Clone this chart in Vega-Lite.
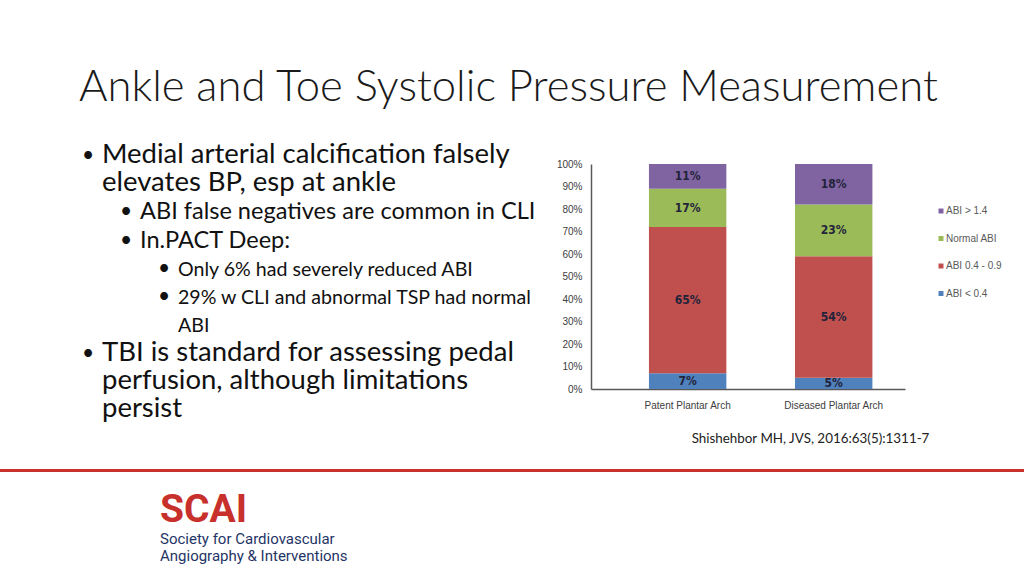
{
  "$schema": "https://vega.github.io/schema/vega-lite/v6.json",
  "background": "white",
  "padding": {"left": 0, "top": 66, "right": 0, "bottom": 0},
  "title": {
    "text": "Ankle and Toe Systolic Pressure Measurement",
    "anchor": "start",
    "dx": 79,
    "offset": 30,
    "font": "Lato",
    "fontWeight": 300,
    "fontSize": 43.6,
    "color": "#1a1a1a"
  },
  "config": {"view": {"stroke": null}},
  "spacing": 24,
  "vconcat": [
    {
      "bounds": "flush",
      "spacing": 57,
      "hconcat": [
        {
          "width": 534,
          "height": 256,
          "data": {
            "values": [
              {"line": 1, "level": 1, "bullet": true, "text": "Medial arterial calcification falsely"},
              {"line": 2, "level": 1, "bullet": false, "text": "elevates BP, esp at ankle"},
              {"line": 3, "level": 2, "bullet": true, "text": "ABI false negatives are common in CLI"},
              {"line": 4, "level": 2, "bullet": true, "text": "In.PACT Deep:"},
              {"line": 5, "level": 3, "bullet": true, "text": "Only 6% had severely reduced ABI"},
              {"line": 6, "level": 3, "bullet": true, "text": "29% w CLI and abnormal TSP had normal"},
              {"line": 7, "level": 3, "bullet": false, "text": "ABI"},
              {"line": 8, "level": 1, "bullet": true, "text": "TBI is standard for assessing pedal"},
              {"line": 9, "level": 1, "bullet": false, "text": "perfusion, although limitations"},
              {"line": 10, "level": 1, "bullet": false, "text": "persist"}
            ]
          },
          "encoding": {
            "x": {"field": "level", "type": "quantitative", "scale": {"domain": [-1.684, 12.37], "zero": false, "nice": false}, "axis": null},
            "y": {"field": "line", "type": "quantitative", "scale": {"domain": [1.035, 10.107], "zero": false, "nice": false, "reverse": true}, "axis": null}
          },
          "layer": [
            {
              "mark": {"type": "text", "align": "left", "baseline": "alphabetic", "font": "Lato", "color": "#111111"},
              "encoding": {
                "text": {"field": "text"},
                "size": {"field": "level", "type": "quantitative", "scale": {"domain": [1, 3], "range": [27.5, 19.6]}, "legend": null}
              }
            },
            {
              "transform": [{"filter": "datum.bullet"}],
              "mark": {"type": "text", "text": "•", "align": "center", "baseline": "alphabetic", "dx": -14, "dy": -1, "font": "Lato", "fontSize": 21, "color": "#111111"}
            }
          ]
        },
        {
          "width": 314,
          "height": 225,
          "data": {
            "values": [
              {"arch": "Patent Plantar Arch", "category": "ABI < 0.4", "tier": 1, "pct": 7},
              {"arch": "Patent Plantar Arch", "category": "ABI 0.4 - 0.9", "tier": 2, "pct": 65},
              {"arch": "Patent Plantar Arch", "category": "Normal ABI", "tier": 3, "pct": 17},
              {"arch": "Patent Plantar Arch", "category": "ABI > 1.4", "tier": 4, "pct": 11},
              {"arch": "Diseased Plantar Arch", "category": "ABI < 0.4", "tier": 1, "pct": 5},
              {"arch": "Diseased Plantar Arch", "category": "ABI 0.4 - 0.9", "tier": 2, "pct": 54},
              {"arch": "Diseased Plantar Arch", "category": "Normal ABI", "tier": 3, "pct": 23},
              {"arch": "Diseased Plantar Arch", "category": "ABI > 1.4", "tier": 4, "pct": 18}
            ]
          },
          "transform": [
            {"stack": "pct", "groupby": ["arch"], "sort": [{"field": "tier", "order": "ascending"}], "as": ["pct0", "pct1"]},
            {"calculate": "(datum.pct0 + datum.pct1) / 2", "as": "mid"},
            {"calculate": "datum.pct + '%'", "as": "label"}
          ],
          "encoding": {
            "x": {
              "field": "arch",
              "type": "nominal",
              "sort": ["Patent Plantar Arch", "Diseased Plantar Arch"],
              "scale": {"paddingInner": 0.47, "paddingOuter": 0.31, "align": 0.64},
              "axis": {
                "labelAngle": 0,
                "ticks": false,
                "domainColor": "#595959",
                "domainWidth": 1.5,
                "labelFont": "Liberation Sans",
                "labelFontSize": 10,
                "labelColor": "#404040",
                "labelPadding": 11,
                "title": "Shishehbor MH, JVS, 2016:63(5):1311-7",
                "titleFont": "Lato",
                "titleFontSize": 13.4,
                "titleFontWeight": "normal",
                "titleColor": "#222222",
                "titleX": 219,
                "titleY": 49,
                "titleBaseline": "middle",
                "titleAlign": "center"
              }
            }
          },
          "layer": [
            {
              "mark": {"type": "bar"},
              "encoding": {
                "y": {
                  "field": "pct0",
                  "type": "quantitative",
                  "scale": {"domain": [0, 100], "nice": false},
                  "axis": {
                    "values": [0, 10, 20, 30, 40, 50, 60, 70, 80, 90, 100],
                    "labelExpr": "datum.value + '%'",
                    "labelOverlap": false,
                    "grid": false,
                    "ticks": false,
                    "domainColor": "#595959",
                    "domainWidth": 1.5,
                    "labelFont": "Liberation Sans",
                    "labelFontSize": 10,
                    "labelColor": "#404040",
                    "labelPadding": 9,
                    "title": null
                  }
                },
                "y2": {"field": "pct1"},
                "color": {
                  "field": "category",
                  "type": "nominal",
                  "scale": {
                    "domain": ["ABI > 1.4", "Normal ABI", "ABI 0.4 - 0.9", "ABI < 0.4"],
                    "range": ["#8064A2", "#9BBB59", "#C0504D", "#4F81BD"]
                  },
                  "legend": {
                    "orient": "none",
                    "legendX": 936,
                    "legendY": 42,
                    "title": null,
                    "symbolType": "square",
                    "symbolSize": 25,
                    "symbolStrokeWidth": 0,
                    "labelFont": "Liberation Sans",
                    "labelFontSize": 10,
                    "labelColor": "#595959",
                    "labelOffset": 0,
                    "rowPadding": 17.5,
                    "labelLimit": 200
                  }
                }
              }
            },
            {
              "mark": {"type": "text", "font": "Liberation Sans Narrow, DejaVu Sans Condensed, Liberation Sans", "fontWeight": "bold", "fontSize": 12, "color": "#23233a", "baseline": "middle"},
              "encoding": {
                "y": {
                  "field": "mid",
                  "type": "quantitative",
                  "axis": {
                    "values": [0, 10, 20, 30, 40, 50, 60, 70, 80, 90, 100],
                    "labelExpr": "datum.value + '%'",
                    "labelOverlap": false,
                    "grid": false,
                    "ticks": false,
                    "domainColor": "#595959",
                    "domainWidth": 1.5,
                    "labelFont": "Liberation Sans",
                    "labelFontSize": 10,
                    "labelColor": "#404040",
                    "labelPadding": 9,
                    "title": null
                  }
                },
                "text": {"field": "label", "type": "nominal"}
              }
            }
          ]
        }
      ]
    },
    {
      "width": 1024,
      "height": 3,
      "view": {"fill": "#C9312C", "stroke": null},
      "title": {
        "text": "SCAI",
        "subtitle": ["Society for Cardiovascular", "Angiography & Interventions"],
        "orient": "bottom",
        "anchor": "start",
        "dx": 160,
        "offset": 19,
        "font": "Roboto",
        "fontWeight": "bold",
        "fontSize": 39,
        "color": "#C8302C",
        "subtitleFont": "Roboto",
        "subtitleFontSize": 15,
        "subtitleColor": "#1F3566",
        "subtitleLineHeight": 17,
        "subtitlePadding": 2
      },
      "mark": {"type": "rule", "color": "#C9312C", "strokeWidth": 3},
      "encoding": {
        "y": {"datum": 0.5, "type": "quantitative", "scale": {"domain": [0, 1]}, "axis": null}
      }
    }
  ]
}
